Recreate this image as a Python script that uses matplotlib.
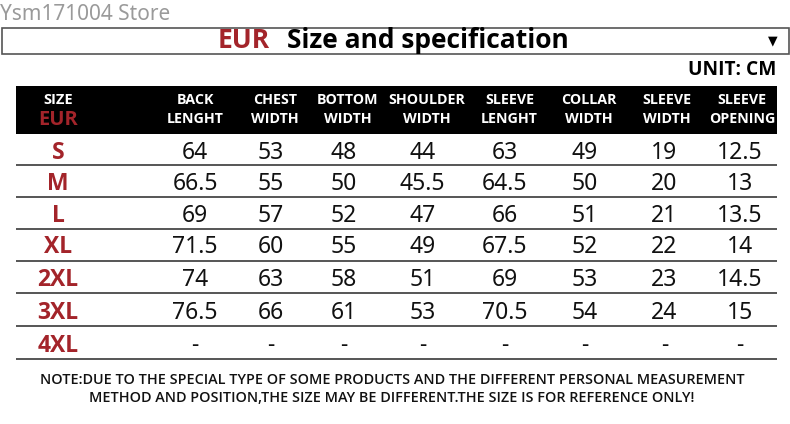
import matplotlib
matplotlib.use("Agg")
import matplotlib.pyplot as plt
from matplotlib.patches import Rectangle

store_name = "Ysm171004 Store"
title_red = "EUR"
title_black = "Size and specification"
unit_text = "UNIT: CM"
size_header = ["SIZE", "EUR"]
col_headers = [("BACK", "LENGHT"), ("CHEST", "WIDTH"), ("BOTTOM", "WIDTH"),
               ("SHOULDER", "WIDTH"), ("SLEEVE", "LENGHT"), ("COLLAR", "WIDTH"),
               ("SLEEVE", "WIDTH"), ("SLEEVE", "OPENING")]
sizes = ["S", "M", "L", "XL", "2XL", "3XL", "4XL"]
back_length = ["64", "66.5", "69", "71.5", "74", "76.5", "-"]
chest_width = ["53", "55", "57", "60", "63", "66", "-"]
bottom_width = ["48", "50", "52", "55", "58", "61", "-"]
shoulder_width = ["44", "45.5", "47", "49", "51", "53", "-"]
sleeve_length = ["63", "64.5", "66", "67.5", "69", "70.5", "-"]
collar_width = ["49", "50", "51", "52", "53", "54", "-"]
sleeve_width = ["19", "20", "21", "22", "23", "24", "-"]
sleeve_opening = ["12.5", "13", "13.5", "14", "14.5", "15", "-"]
note_lines = ["NOTE:DUE TO THE SPECIAL TYPE OF SOME PRODUCTS AND THE DIFFERENT PERSONAL MEASUREMENT",
              "METHOD AND POSITION,THE SIZE MAY BE DIFFERENT.THE SIZE IS FOR REFERENCE ONLY!"]

columns = [back_length, chest_width, bottom_width, shoulder_width,
           sleeve_length, collar_width, sleeve_width, sleeve_opening]

W, H = 790, 424
fig = plt.figure(figsize=(W / 100, H / 100), dpi=100)
ax = fig.add_axes([0, 0, 1, 1])
ax.set_xlim(0, W)
ax.set_ylim(H, 0)
ax.axis("off")

RED = "#a3242a"
FONT = ["Noto Sans", "DejaVu Sans"]
BFONT = ["Open Sans", "DejaVu Sans"]

# store name
ax.text(0, 14, store_name, color="#9a9a9a", fontsize=15, family=FONT,
        ha="left", va="center")

# title box
ax.add_patch(Rectangle((1.5, 27.5), 787, 26, fill=False, ec="#555555", lw=1.2))
ax.text(270, 41, title_red, color=RED, fontsize=19, fontweight="bold",
        family=BFONT, ha="right", va="center")
ax.text(287, 41, title_black, color="black", fontsize=19, fontweight="bold",
        family=BFONT, ha="left", va="center")
ax.text(773, 41, "\u25BC", color="black", fontsize=9, family=["DejaVu Sans"],
        ha="center", va="center")

# unit
ax.text(776, 70, unit_text, color="black", fontsize=13.8, fontweight="bold",
        family=BFONT, ha="right", va="center")

# header band
band_x0, band_x1 = 16, 776.5
ax.add_patch(Rectangle((band_x0, 86), band_x1 - band_x0, 48, color="black", lw=0))
size_x = 58
head_x = [195, 275, 347.5, 427, 509.5, 588.5, 667, 742]
ax.text(size_x, 100.5, size_header[0], color="white", fontsize=10.5, fontweight="bold",
        family=BFONT, ha="center", va="center")
ax.text(size_x, 120, size_header[1], color=RED, fontsize=14.5, fontweight="bold",
        family=BFONT, ha="center", va="center")
for hx, (l1, l2) in zip(head_x, col_headers):
    ax.text(hx, 100.5, l1, color="white", fontsize=10.3, fontweight="bold",
            family=BFONT, ha="center", va="center")
    ax.text(hx, 119, l2, color="white", fontsize=10.3, fontweight="bold",
            family=BFONT, ha="center", va="center")

# rows
row_lines = [165, 197, 228.5, 260.5, 293, 326, 359]
row_text_y = [153, 184, 215.5, 247, 280, 313, 346]
data_x = [195, 271, 343.5, 422.5, 504.5, 585, 664.5, 740]
for i, s in enumerate(sizes):
    ax.plot([band_x0, band_x1], [row_lines[i], row_lines[i]], color="#555555", lw=1.4,
            solid_capstyle="butt")
    ax.text(size_x, row_text_y[i], s, color=RED, fontsize=16.5, fontweight="bold",
            family=BFONT, ha="center", va="center")
    for x, col in zip(data_x, columns):
        v = col[i]
        ax.text(x, row_text_y[i] if v != "-" else row_text_y[i] - 1, v,
                color="#111111", fontsize=16.5, family=FONT,
                ha="center", va="center")

# note
ax.text(392, 380, note_lines[0], color="#111111", fontsize=10.4, fontweight="semibold",
        family=BFONT, ha="center", va="center")
ax.text(392, 398, note_lines[1], color="#111111", fontsize=10.4, fontweight="semibold",
        family=BFONT, ha="center", va="center")

fig.savefig("out.png", dpi=100)
